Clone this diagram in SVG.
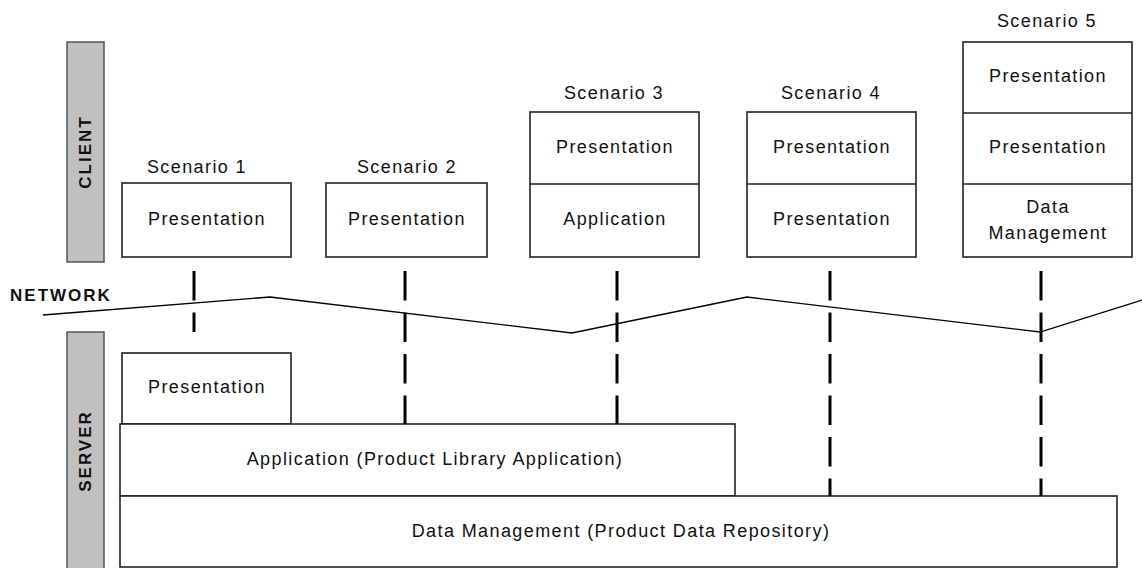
<svg xmlns="http://www.w3.org/2000/svg" width="1142" height="568" viewBox="0 0 1142 568">
<style>
.bg{fill:#fff}
.bar{fill:#c0c0c0;stroke:#555;stroke-width:1.5}
.box{fill:#fff;stroke:#222;stroke-width:1.6}
.div{stroke:#222;stroke-width:1.6}
.t{font-family:"Liberation Sans",Arial,sans-serif;font-size:18px;fill:#111;text-anchor:middle;letter-spacing:1.4px}
.b{font-family:"Liberation Sans",Arial,sans-serif;font-size:17px;font-weight:bold;fill:#111;text-anchor:middle;letter-spacing:2px}
.net{fill:none;stroke:#000;stroke-width:1.3}
.dash{stroke:#000;stroke-width:3;stroke-dasharray:29.5 12;fill:none}
</style>
<rect class="bg" x="0" y="0" width="1142" height="568"/>

<g id="client-bar">
<rect class="bar" x="67" y="42" width="37" height="220"/>
<text class="b" transform="translate(91,152) rotate(-90)">CLIENT</text>
</g>
<g id="server-bar">
<rect class="bar" x="67" y="332" width="37" height="240"/>
<text class="b" transform="translate(91,451) rotate(-90)">SERVER</text>
</g>
<g id="network-label">
<text class="b" x="61" y="301">NETWORK</text>
<polyline class="net" points="43,315 270,297 572,333 747,297 1040,332 1142,300"/>
</g>

<g id="scenario1">
<text class="t" x="197" y="173">Scenario 1</text>
<rect class="box" x="122" y="183" width="169" height="74"/>
<text class="t" x="207" y="225">Presentation</text>
</g>
<g id="scenario2">
<text class="t" x="407" y="173">Scenario 2</text>
<rect class="box" x="326" y="183" width="161" height="74"/>
<text class="t" x="407" y="225">Presentation</text>
</g>
<g id="scenario3">
<text class="t" x="614" y="99">Scenario 3</text>
<rect class="box" x="530" y="112" width="169" height="145"/>
<line class="div" x1="530" y1="184" x2="699" y2="184"/>
<text class="t" x="615" y="153">Presentation</text>
<text class="t" x="615" y="225">Application</text>
</g>
<g id="scenario4">
<text class="t" x="831" y="99">Scenario 4</text>
<rect class="box" x="747" y="112" width="169" height="145"/>
<line class="div" x1="747" y1="184" x2="916" y2="184"/>
<text class="t" x="832" y="153">Presentation</text>
<text class="t" x="832" y="225">Presentation</text>
</g>
<g id="scenario5">
<text class="t" x="1047" y="27">Scenario 5</text>
<rect class="box" x="963" y="42" width="169" height="215"/>
<line class="div" x1="963" y1="113" x2="1132" y2="113"/>
<line class="div" x1="963" y1="184" x2="1132" y2="184"/>
<text class="t" x="1048" y="82">Presentation</text>
<text class="t" x="1048" y="153">Presentation</text>
<text class="t" x="1048" y="213">Data</text>
<text class="t" x="1048" y="239">Management</text>
</g>

<g id="server-presentation">
<rect class="box" x="122" y="353" width="169" height="71"/>
<text class="t" x="207" y="393">Presentation</text>
</g>
<g id="server-application">
<rect class="box" x="120" y="424" width="615" height="72"/>
<text class="t" x="435" y="465">Application (Product Library Application)</text>
</g>
<g id="server-data">
<rect class="box" x="120" y="496" width="997" height="71"/>
<text class="t" x="621" y="537">Data Management (Product Data Repository)</text>
</g>

<g id="connectors">
<line class="dash" x1="194" y1="271" x2="194" y2="332"/>
<line class="dash" x1="405" y1="271" x2="405" y2="424"/>
<line class="dash" x1="617" y1="271" x2="617" y2="424"/>
<line class="dash" x1="830" y1="271" x2="830" y2="496"/>
<line class="dash" x1="1041" y1="271" x2="1041" y2="496"/>
</g>
</svg>
